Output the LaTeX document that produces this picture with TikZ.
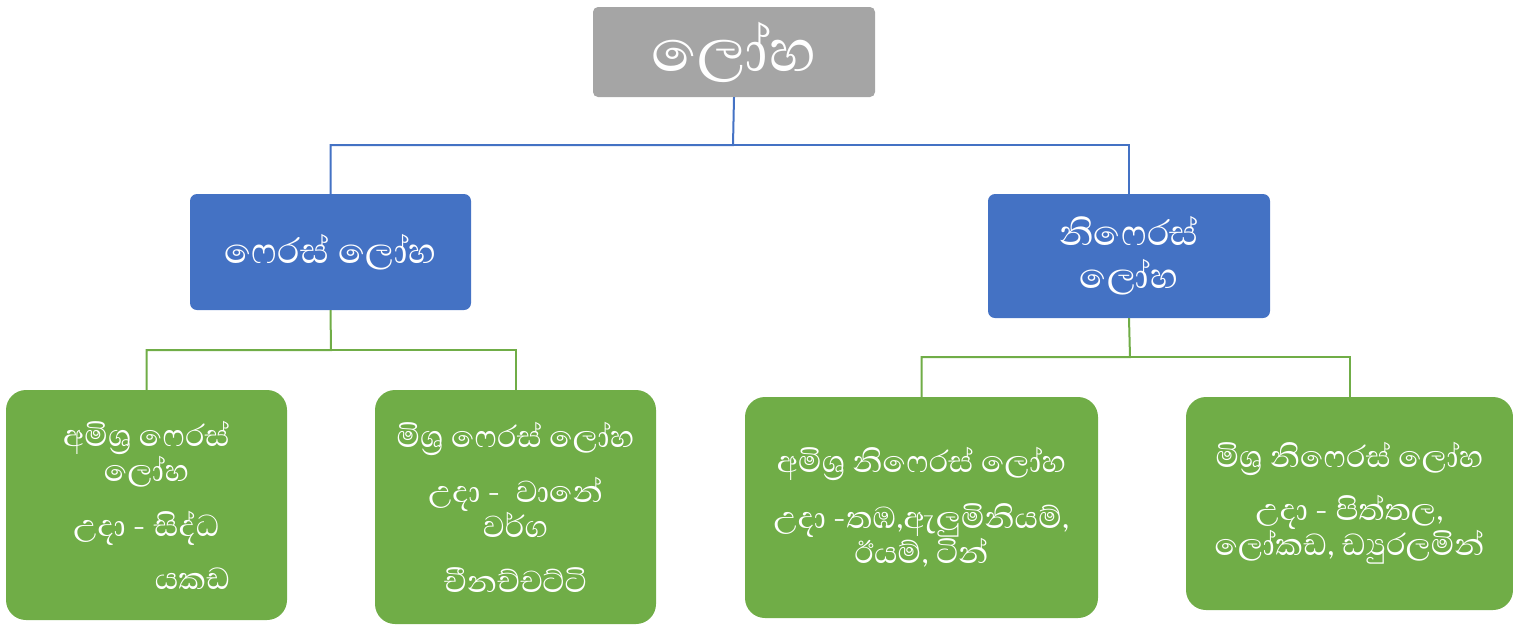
\documentclass[tikz,border=0pt]{standalone}
\usepackage{fontspec}
\newfontfamily\sinhalafont[Script=Sinhala]{Abhaya Libre}
\definecolor{topgray}{HTML}{A5A5A5}
\definecolor{midblue}{HTML}{4472C4}
\definecolor{leafgreen}{HTML}{70AD47}
\tikzset{
  topbox/.style={fill=topgray, rounded corners=5pt, inner sep=0pt, text=white, align=center,
    font=\sinhalafont\fontsize{76}{80}\selectfont},
  bluebox/.style={fill=midblue, rounded corners=7pt, inner sep=0pt, text=white, align=center,
    font={\sinhalafont\fontsize{45}{43}\selectfont\lineskiplimit -100pt\relax}},
  greenbox/.style={fill=leafgreen, rounded corners=20pt, inner sep=0pt, text=white, align=center,
    font={\sinhalafont\fontsize{39}{35}\selectfont\lineskiplimit -100pt\relax}},
  blueline/.style={draw=midblue, line width=2pt},
  greenline/.style={draw=leafgreen, line width=2pt}
}
\begin{document}
\begin{tikzpicture}[x=1pt,y=-1pt]
\useasboundingbox (0,0) rectangle (1513,625);
\node[topbox, minimum width=282pt, minimum height=90pt] (top) at (734,52) {ලෝහ};
\node[bluebox, minimum width=281pt, minimum height=116pt] (lb) at (330.5,252) {ෆෙරස් ලෝහ};
\node[bluebox, minimum width=282pt, minimum height=124pt] (rb) at (1129,256) {නිෆෙරස්\\ලෝහ};
\node[greenbox, minimum width=281pt, minimum height=230pt] (g1) at (146.5,505)
  {අමිශ්‍ර ෆෙරස්\\ලෝහ\\[20pt]උදා - සිද්ධ\\[18pt]\hspace*{92pt}යකඩ};
\node[greenbox, minimum width=281pt, minimum height=234pt] (g2) at (515.5,507)
  {මිශ්‍ර ෆෙරස් ලෝහ\\[20pt]උදා -\ \ වානේ\\වර්ග\\[20pt]චීනච්චට්ටි};
\node[greenbox, minimum width=353pt, minimum height=221pt] (g3) at (921.5,507.5)
  {අමිශ්‍ර නිෆෙරස් ලෝහ\\[21pt]උදා -තඹ,ඇලුමිනියම්,\\ඊයම්, ටින්};
\node[greenbox, minimum width=327pt, minimum height=213pt] (g4) at (1349.5,503.5)
  {මිශ්‍ර නිෆෙරස් ලෝහ\\[18pt]උදා - පිත්තල,\\ලෝකඩ, ඩ්‍යුරලමින්};
\coordinate (bj) at (733,145);
\draw[blueline] (top.south) -- (bj) -| (lb.north);
\draw[blueline] (bj) -| (rb.north);
\coordinate (lj) at (331,350);
\draw[greenline] (lb.south) -- (lj) -| (g1.north);
\draw[greenline] (lj) -| (g2.north);
\coordinate (rj) at (1130,357);
\draw[greenline] (rb.south) -- (rj) -| (g3.north);
\draw[greenline] (rj) -| (g4.north);
\end{tikzpicture}
\end{document}
